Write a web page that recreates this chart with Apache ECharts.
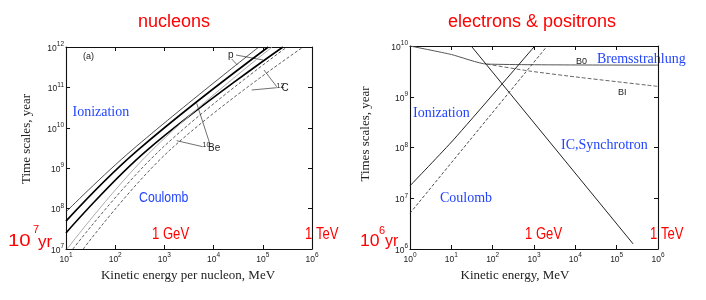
<!DOCTYPE html>
<html>
<head>
<meta charset="utf-8">
<script src="https://cdn.jsdelivr.net/npm/echarts@6/dist/echarts.min.js"></script>
<style>
html,body{margin:0;padding:0;background:#fff;}
#c{width:706px;height:300px;}
</style>
</head>
<body>
<div id="c"></div>
<script>
// ---- Left panel: nucleons (kinetic energy per nucleon MeV, time scale yr)
const nucXRange = [10, 1e6];
const nucYRange = [1e7, 1e12];
const nucThinA  = [[10, 8.3e7], [219, 2.8e9], [8.3e4, 1e12]];
const nucThickB = [[10, 4.9e7], [288, 2.8e9], [1.29e5, 1e12]];
const nucThickC = [[10, 2.5e7], [447, 2.8e9], [2.57e5, 1e12]];
const nucGrayD  = [[10.5, 1e7], [562, 2.8e9], [1.55e5, 1e12]];
const nucDashE  = [[13.8, 1e7], [813, 2.8e9], [3.09e5, 1e12]];
const nucDashF  = [[22.4, 1e7], [1290, 2.8e9], [6.6e5, 1e12]];

// ---- Right panel: electrons & positrons (kinetic energy MeV, time scale yr)
const eleXRange = [1, 1e6];
const eleYRange = [1e6, 1e10];
const eleBremsB0 = [[1, 1e10], [10, 6.8e9], [72, 4.4e9], [1e6, 4.2e9]];
const eleBremsBI = [[72, 4.4e9], [800, 3.2e9], [1.3e4, 2.4e9], [1e6, 1.6e9]];
const eleICSync  = [[30.2, 1e10], [2.5e5, 1.26e6]];
const eleIoniz   = [[1, 1.76e7], [11.2, 1.41e8], [1047, 1e10]];
const eleCoulomb = [[1, 5.07e6], [28.4, 1.41e8], [2090, 1e10]];

const chart = echarts.init(document.getElementById('c'), null, {renderer: 'canvas'});

const SANS = '"Liberation Sans", Arial, sans-serif';
const SERIF = '"Liberation Serif", "Times New Roman", serif';
const BLUE = '#2244ff';
const RED = '#ff0000';

function powLabel(v) {
  const e = Math.round(Math.log10(v));
  return '{b|10}{s|' + e + '}';
}
const richLab = {
  b: {fontSize: 8.5, fontFamily: SANS, color: '#222', lineHeight: 12, verticalAlign: 'bottom'},
  s: {fontSize: 6.5, fontFamily: SANS, color: '#222', lineHeight: 8, verticalAlign: 'top'}
};

function mkX(grid, range, pos, labels) {
  return {
    type: 'log', logBase: 10, gridIndex: grid, position: pos,
    min: range[0], max: range[1], interval: 1,
    axisLine: {show: true, onZero: false, lineStyle: {color: '#111', width: 1.1}},
    axisTick: {show: true, inside: true, length: 4, lineStyle: {color: '#111', width: 1}},
    minorTick: {show: false},
    splitLine: {show: false},
    axisLabel: labels ? {show: true, formatter: powLabel, rich: richLab, margin: 3} : {show: false}
  };
}
function mkY(grid, range, pos, labels) {
  return {
    type: 'log', logBase: 10, gridIndex: grid, position: pos,
    min: range[0], max: range[1], interval: 1,
    axisLine: {show: true, onZero: false, lineStyle: {color: '#111', width: 1.1}},
    axisTick: {show: true, inside: true, length: 4, lineStyle: {color: '#111', width: 1}},
    minorTick: {show: false},
    splitLine: {show: false},
    axisLabel: labels ? {show: true, formatter: powLabel, rich: richLab, margin: 2} : {show: false}
  };
}
function ln(data, xi, yi, color, width, type, smooth) {
  return {
    type: 'line', data: data, xAxisIndex: xi, yAxisIndex: yi,
    showSymbol: false, symbol: 'none', smooth: smooth == null ? 0.2 : smooth,
    silent: true, clip: true,
    lineStyle: {color: color, width: width, type: type || 'solid'}
  };
}
function txt(x, y, s, opt) {
  opt = opt || {};
  return {
    type: 'text', x: x, y: y, silent: true,
    rotation: opt.rot || 0, scaleX: opt.sx || 1, scaleY: 1,
    style: {
      text: s, fontSize: opt.size || 12, fontFamily: opt.fam || SANS,
      fill: opt.color || '#222', textAlign: opt.align || 'left',
      textVerticalAlign: 'middle'
    }
  };
}
function seg(x1, y1, x2, y2) {
  return {type: 'line', silent: true, shape: {x1: x1, y1: y1, x2: x2, y2: y2},
          style: {stroke: '#333', lineWidth: 0.7}};
}

const option = {
  backgroundColor: '#fff',
  animation: false,
  grid: [
    {left: 66, top: 47, width: 246, height: 202},
    {left: 410, top: 46, width: 248, height: 203}
  ],
  xAxis: [
    mkX(0, nucXRange, 'bottom', true),
    mkX(0, nucXRange, 'top', false),
    mkX(1, eleXRange, 'bottom', true),
    mkX(1, eleXRange, 'top', false)
  ],
  yAxis: [
    mkY(0, nucYRange, 'left', true),
    mkY(0, nucYRange, 'right', false),
    mkY(1, eleYRange, 'left', true),
    mkY(1, eleYRange, 'right', false)
  ],
  series: [
    ln(nucThinA, 0, 0, '#222', 0.8, null, 0.4),
    ln(nucThickB, 0, 0, '#000', 1.6, null, 0.4),
    ln(nucThickC, 0, 0, '#000', 1.6, null, 0.4),
    ln(nucGrayD, 0, 0, '#aaa', 1, null, 0.4),
    ln(nucDashE, 0, 0, '#333', 0.8, [3, 2], 0.4),
    ln(nucDashF, 0, 0, '#333', 0.8, [3, 2], 0.4),
    ln(eleBremsB0, 2, 2, '#555', 1),
    ln(eleBremsBI, 2, 2, '#555', 0.9, [4, 2]),
    ln(eleICSync, 2, 2, '#222', 1, null, 0),
    ln(eleIoniz, 2, 2, '#222', 1),
    ln(eleCoulomb, 2, 2, '#333', 0.9, [3, 2])
  ],
  graphic: [
    txt(174, 22, 'nucleons', {size: 18, color: RED, align: 'center'}),
    txt(532, 22, 'electrons & positrons', {size: 18, color: RED, align: 'center'}),
    // left panel texts
    txt(83, 57, '(a)', {size: 9}),
    txt(72.5, 112, 'Ionization', {size: 14, fam: SERIF, color: BLUE}),
    txt(139, 198, 'Coulomb', {size: 14, color: BLUE, sx: 0.88}),
    txt(152, 234, '1 GeV', {size: 17, color: RED, sx: 0.77}),
    txt(305, 234, '1 TeV', {size: 17, color: RED, sx: 0.77}),
    txt(8, 241, '10', {size: 17, color: RED, sx: 1.2}),
    txt(33, 230, '7', {size: 11, color: RED}),
    txt(38, 242, 'yr', {size: 17, color: RED}),
    txt(228, 55, 'p', {size: 10}),
    txt(276.5, 86, '12', {size: 7}),
    txt(281.5, 88.5, 'C', {size: 10}),
    txt(202.5, 145.5, '10', {size: 7}),
    txt(208, 148.5, 'Be', {size: 10}),
    seg(231.7, 59, 237.3, 65),
    seg(236, 55, 263, 60),
    seg(276.7, 86.7, 264, 70),
    seg(276.7, 87.7, 251.7, 90),
    seg(210, 144.3, 196.7, 103.3),
    seg(202.7, 146.7, 176.7, 140.7),
    txt(27, 139, 'Time scales, year', {size: 13, fam: SERIF, align: 'center', rot: Math.PI / 2}),
    txt(188, 276, 'Kinetic energy per nucleon, MeV', {size: 13, fam: SERIF, align: 'center'}),
    // right panel texts
    txt(413, 113, 'Ionization', {size: 14, fam: SERIF, color: BLUE}),
    txt(597, 59, 'Bremsstrahlung', {size: 14, fam: SERIF, color: BLUE}),
    txt(561, 145, 'IC,Synchrotron', {size: 14, fam: SERIF, color: BLUE}),
    txt(440, 198, 'Coulomb', {size: 14, fam: SERIF, color: BLUE}),
    txt(576, 61.5, 'B0', {size: 9}),
    txt(618, 92.5, 'BI', {size: 9}),
    txt(525, 234, '1 GeV', {size: 17, color: RED, sx: 0.77}),
    txt(650, 234, '1 TeV', {size: 17, color: RED, sx: 0.77}),
    txt(360, 241.5, '10', {size: 16, color: RED, sx: 1.1}),
    txt(379, 231, '6', {size: 11, color: RED}),
    txt(385, 242, 'yr', {size: 16, color: RED}),
    txt(366, 134, 'Times scales, year', {size: 13, fam: SERIF, align: 'center', rot: Math.PI / 2}),
    txt(515, 276, 'Kinetic energy, MeV', {size: 13, fam: SERIF, align: 'center'})
  ]
};
chart.setOption(option);
</script>
</body>
</html>
